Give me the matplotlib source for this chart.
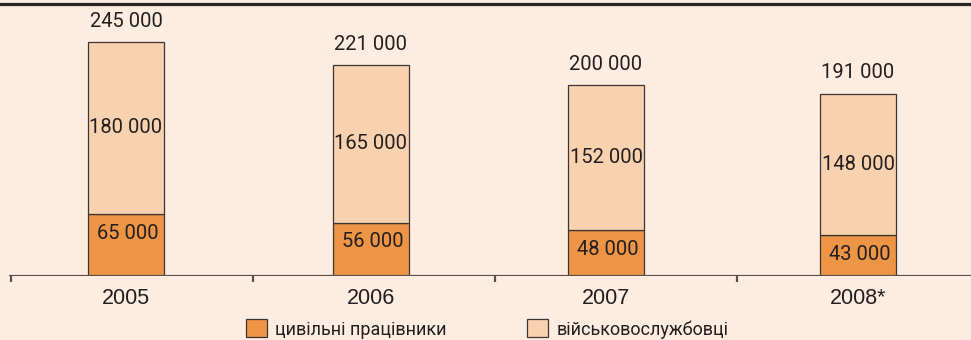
import matplotlib
matplotlib.use("Agg")
import matplotlib.pyplot as plt
from matplotlib.lines import Line2D

# staff numbers by year
years     = ['2005', '2006', '2007', '2008*']
civilians = [65000, 56000, 48000, 43000]
military  = [180000, 165000, 152000, 148000]
totals    = [245000, 221000, 200000, 191000]

label_civ = 'цивільні працівники'
label_mil = 'військовослужбовці'

BG      = '#fdede0'
C_CIV   = '#ee9445'
C_MIL   = '#f8d2af'
EDGE    = '#3d3434'
TXT     = '#231f20'
NARROW  = ['Roboto', 'DejaVu Sans']
REGULAR = ['Liberation Sans', 'DejaVu Sans']


def fmt(v):
    return '{:,}'.format(v).replace(',', ' ')


W, H = 971, 340
fig = plt.figure(figsize=(W / 100, H / 100), dpi=100, facecolor=BG)

# axes laid out in pixel units: baseline at 276 px, top rule at 4 px
ax = fig.add_axes([0, (H - 276) / H, 1, 272 / H])
ax.set_facecolor(BG)
ax.set_xlim(0, W)
px_per_k = 0.955
ax.set_ylim(0, 272 / px_per_k * 1000)

xpos  = [126, 371, 606, 858]
bar_w = 76

ax.bar(xpos, civilians, width=bar_w, color=C_CIV, edgecolor=EDGE,
       linewidth=0.9, label=label_civ, zorder=3)
ax.bar(xpos, military, width=bar_w, bottom=civilians, color=C_MIL,
       edgecolor=EDGE, linewidth=0.9, label=label_mil, zorder=3)

for x, c, m, t in zip(xpos, civilians, military, totals):
    ax.annotate(fmt(t), (x, t), xytext=(0, 15), textcoords='offset points',
                ha='center', va='center', fontsize=14.5, family=NARROW, color=TXT)
    ax.text(x, c + m / 2, fmt(m), ha='center', va='center',
            fontsize=14.5, family=NARROW, color=TXT, zorder=4)
    ax.annotate(fmt(c), (x + 2, c), xytext=(0, -14), textcoords='offset points',
                ha='center', va='center', fontsize=14.5, family=NARROW, color=TXT,
                zorder=4)

# spines: only the top rule, baseline drawn separately from x=10
for s in ['left', 'right', 'bottom']:
    ax.spines[s].set_visible(False)
ax.spines['top'].set_color('#2b2424')
ax.spines['top'].set_linewidth(1.6)
ax.axhline(0, xmin=10 / W, xmax=1, color='#5a5050', linewidth=1.6, zorder=5)

ax.set_yticks([])
ax.set_xticks(xpos)
ax.set_xticklabels(years, fontsize=15.5, color=TXT)
for lbl in ax.get_xticklabels():
    lbl.set_family(REGULAR)
ax.tick_params(axis='x', which='major', length=0, pad=9)
ax.set_xticks([11, 253, 495, 737], minor=True)
ax.tick_params(axis='x', which='minor', length=4.5, width=1.6, color='#5a5050',
               direction='out')

leg = fig.legend(loc='center', bbox_to_anchor=(487 / W, 1 - 329 / H), ncol=2,
                 frameon=False, handlelength=1.15, handleheight=1.15,
                 handletextpad=0.45, columnspacing=4.5, borderpad=0,
                 prop={'family': NARROW, 'size': 13})
for t in leg.get_texts():
    t.set_color(TXT)

fig.add_artist(Line2D([0, 1], [1 - 4.5 / H] * 2, color='#2b2424', linewidth=1.6))

fig.savefig('out.png', dpi=100, facecolor=BG)
